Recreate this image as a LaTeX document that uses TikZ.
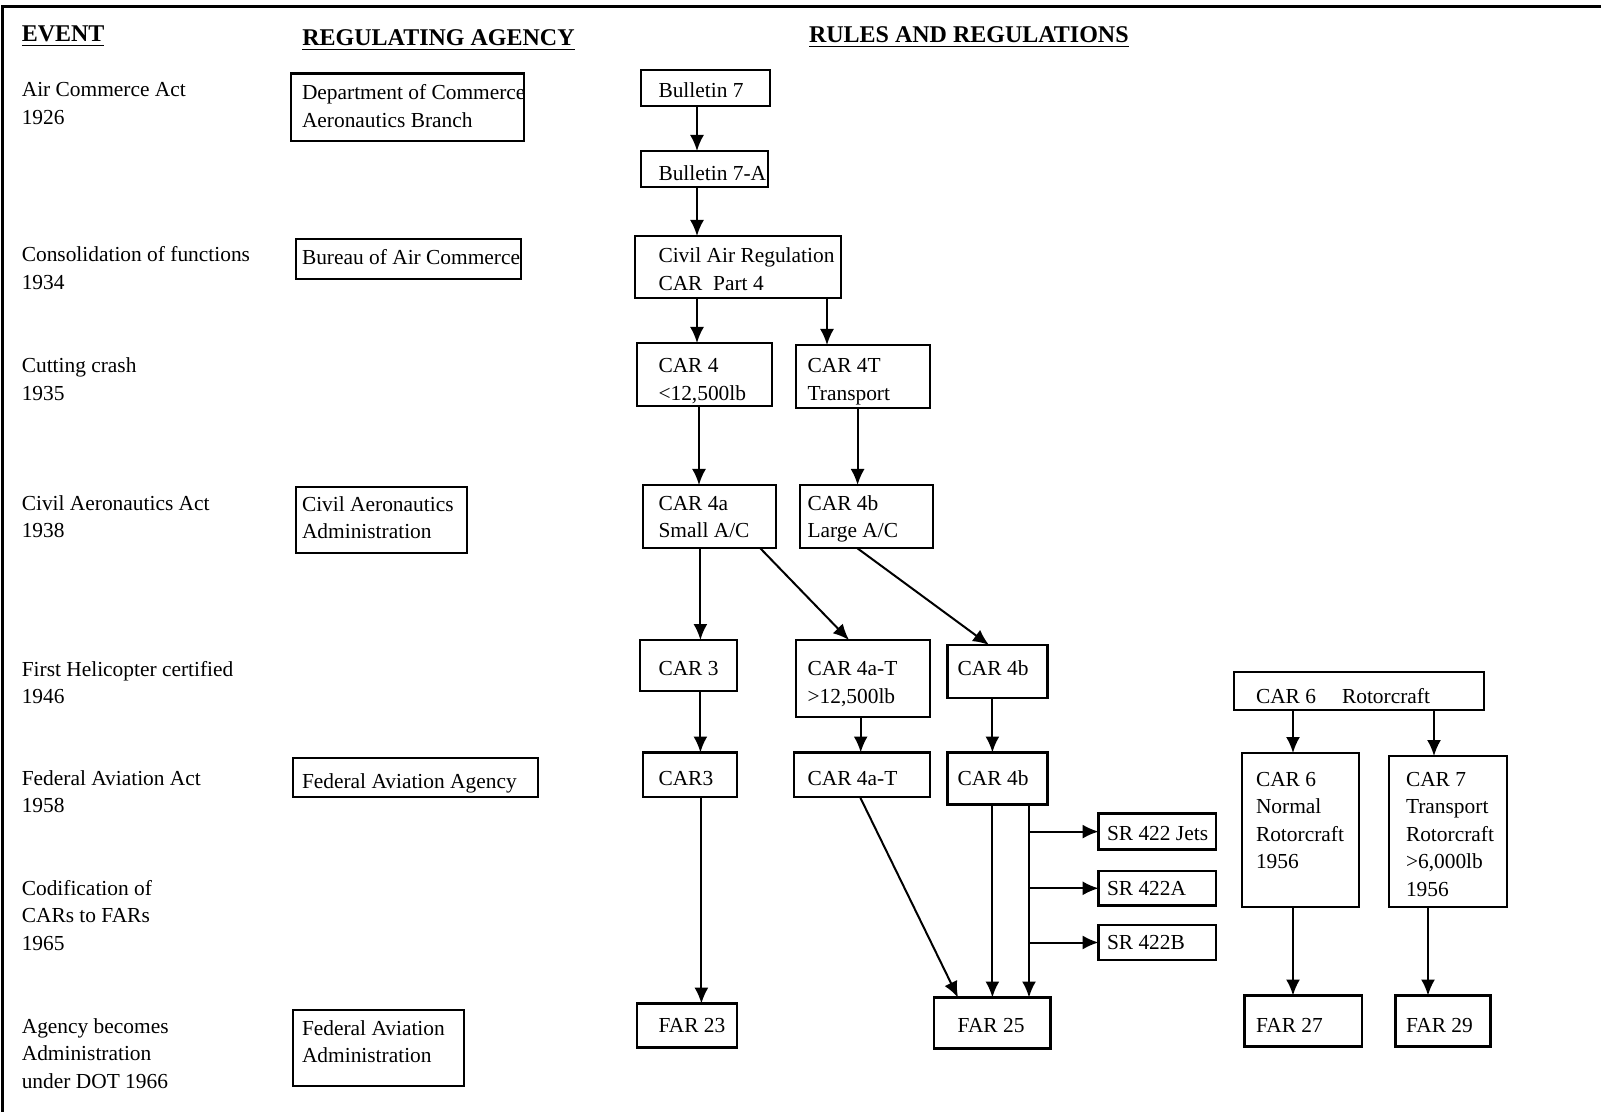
\documentclass[tikz,border=0pt]{standalone}
\usepackage{fontspec}
\setmainfont{Liberation Serif}
\usepackage{tikz}
\usetikzlibrary{arrows.meta}

\newcommand{\stack}[1]{\begin{tabular}[t]{@{}l@{}}#1\end{tabular}}
% name, x1, y1, x2, y2, text x, first baseline, text
\newcommand{\rulebox}[8]{%
  \pgfmathsetmacro{\bw}{(#4-2*#6+#2)*0.5}%
  \pgfmathsetmacro{\bp}{(#6-#2)*0.5}%
  \pgfmathsetmacro{\bh}{(#7-#3)*0.5}%
  \pgfmathsetmacro{\bd}{(#5-#7)*0.5}%
  \node[rbox, inner xsep=\bp pt, text height=\bh pt, text depth=\bd pt] (#1) at (#2,#7)
    {\makebox[\bw pt][l]{\stack{#8}}};}

\begin{document}
\begin{tikzpicture}[x=0.5pt,y=-0.5pt,
  rbox/.style={draw, line width=1.3pt, inner ysep=0pt, outer sep=0pt, anchor=base west,
    font=\fontsize{10.7}{13.8}\selectfont},
  txt/.style={inner sep=0pt, anchor=base west, font=\fontsize{10.7}{13.8}\selectfont},
  head/.style={inner sep=0pt, anchor=base west, font=\fontsize{12}{14}\selectfont\bfseries},
  arr/.style={-{Latex[length=8pt,width=7pt]}, line width=1pt}]
\useasboundingbox (0,0) rectangle (1601,1112);
\draw[line width=1.5pt] (2,1112) -- (2,7) -- (1601,7);

\node[head] (hevent) at (21.4,42) {\underline{EVENT}};
\node[head] (hagency) at (302,46) {\underline{REGULATING AGENCY}};
\node[head] (hrules) at (808.6,43) {\underline{RULES AND REGULATIONS}};

% events
\node[txt] (ev1926) at (21.4,97) {\stack{Air Commerce Act\\1926}};
\node[txt] (ev1934) at (21.4,262) {\stack{Consolidation of functions\\1934}};
\node[txt] (ev1935) at (21.4,372.5) {\stack{Cutting crash\\1935}};
\node[txt] (ev1938) at (21.4,510) {\stack{Civil Aeronautics Act\\1938}};
\node[txt] (ev1946) at (21.4,676) {\stack{First Helicopter certified\\1946}};
\node[txt] (ev1958) at (21.4,785) {\stack{Federal Aviation Act\\1958}};
\node[txt] (ev1965) at (21.4,895) {\stack{Codification of\\CARs to FARs\\1965}};
\node[txt] (ev1966) at (21.4,1033) {\stack{Agency becomes\\Administration\\under DOT 1966}};

% agencies
\rulebox{dept}{291}{73.5}{524}{141}{302}{100}{Department of Commerce\\Aeronautics Branch}
\rulebox{bureau}{296}{239}{521}{279}{302}{265}{Bureau of Air Commerce}
\rulebox{caa}{296}{487}{467}{553}{302}{511}{Civil Aeronautics\\Administration}
\rulebox{faagency}{293}{758}{538}{797}{302}{788}{Federal Aviation Agency}
\rulebox{faadmin}{293}{1010}{464}{1086}{302}{1035}{Federal Aviation\\Administration}

% rules
\rulebox{bul7}{641}{70}{770}{106}{658.5}{98}{Bulletin 7}
\rulebox{bul7a}{641}{151}{768}{187}{658.5}{180.6}{Bulletin 7-A}
\rulebox{carpart}{635}{236}{841}{298}{658.5}{263}{Civil Air Regulation\\CAR~ Part 4}
\rulebox{car4}{637}{343}{772}{406}{658.5}{372.5}{CAR 4\\<12,500lb}
\rulebox{car4t}{796}{345}{930}{408}{807.6}{372.5}{CAR 4T\\Transport}
\rulebox{car4a}{643}{485}{776}{548}{658.5}{510}{CAR 4a\\Small A/C}
\rulebox{car4b}{800}{485}{933}{548}{807.6}{510}{CAR 4b\\Large A/C}
\rulebox{car3}{640}{640}{737}{691}{658.5}{675.8}{CAR 3}
\rulebox{car4at}{796}{640}{930}{717}{807.6}{675.8}{CAR 4a-T\\>12,500lb}
\rulebox{car4bh}{947.5}{645}{1047.5}{698}{957.7}{675.8}{CAR 4b}
\rulebox{car6}{1234}{672}{1484}{710}{1256}{703}{CAR 6\hspace{13pt}Rotorcraft}
\rulebox{car3f}{643}{752.5}{737}{797}{658.5}{785}{CAR3}
\rulebox{car4atf}{794}{752.5}{930}{797}{807.6}{785}{CAR 4a-T}
\rulebox{car4bf}{947.5}{752.5}{1047.5}{804.5}{957.7}{785}{CAR 4b}
\rulebox{car6n}{1242}{753}{1359}{907}{1256}{786}{CAR 6\\Normal\\Rotorcraft\\1956}
\rulebox{car7}{1389}{756}{1507}{907}{1406}{786}{CAR 7\\Transport\\Rotorcraft\\>6,000lb\\1956}
\rulebox{srjets}{1098.6}{813.7}{1216}{849.5}{1107}{840}{SR 422 Jets}
\rulebox{sra}{1098.6}{871}{1216}{905.6}{1107}{895}{SR 422A}
\rulebox{srb}{1098.6}{925}{1216}{960}{1107}{949}{SR 422B}
\rulebox{far23}{637}{1003.6}{737}{1047.5}{658.5}{1032}{FAR 23}
\rulebox{far25}{934}{997.5}{1050.6}{1048.6}{957.7}{1032}{FAR 25}
\rulebox{far27}{1244.6}{995.5}{1362}{1046.5}{1256}{1032}{FAR 27}
\rulebox{far29}{1395.7}{995.5}{1490.7}{1046.5}{1406}{1032}{FAR 29}

\draw[arr] (bul7.south -| 697,0) -- (bul7a.north -| 697,0);
\draw[arr] (bul7a.south -| 697,0) -- (carpart.north -| 697,0);
\draw[arr] (carpart.south -| 697,0) -- (car4.north -| 697,0);
\draw[arr] (carpart.south -| 827,0) -- (car4t.north -| 827,0);
\draw[arr] (car4.south -| 699,0) -- (car4a.north -| 699,0);
\draw[arr] (car4t.south -| 857.6,0) -- (car4b.north -| 857.6,0);
\draw[arr] (car4a.south -| 700.4,0) -- (car3.north -| 700.4,0);
\draw[arr] (car4a.south -| 760,0) -- (car4at.north -| 849,0);
\draw[arr] (car4b.south -| 857,0) -- (car4bh.north -| 989,0);
\draw[arr] (car3.south -| 700.4,0) -- (car3f.north -| 700.4,0);
\draw[arr] (car4at.south -| 860.7,0) -- (car4atf.north -| 860.7,0);
\draw[arr] (car4bh.south -| 992.4,0) -- (car4bf.north -| 992.4,0);
\draw[arr] (car6.south -| 1293,0) -- (car6n.north -| 1293,0);
\draw[arr] (car6.south -| 1434,0) -- (car7.north -| 1434,0);
\draw[arr] (car3f.south -| 701.4,0) -- (far23.north -| 701.4,0);
\draw[arr] (car4atf.south -| 860,0) -- (far25.north -| 958,0);
\draw[arr] (car4bf.south -| 992.4,0) -- (far25.north -| 992.4,0);
\draw[arr] (car4bf.south -| 1029,0) -- (far25.north -| 1029,0);
\foreach \sr in {srjets,sra,srb}
  \draw[arr] (\sr.west -| 1029,0) -- (\sr.west);
\draw[arr] (car6n.south -| 1293,0) -- (far27.north -| 1293,0);
\draw[arr] (car7.south -| 1428,0) -- (far29.north -| 1428,0);
\end{tikzpicture}
\end{document}
